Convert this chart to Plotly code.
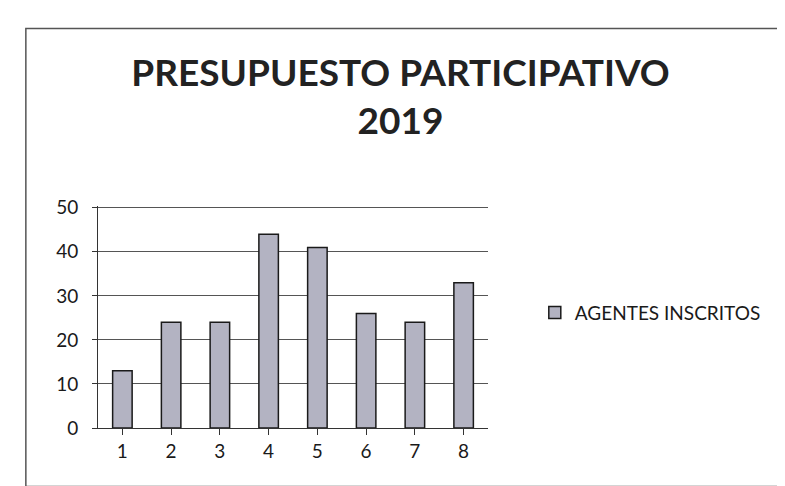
import plotly.graph_objects as go

categories = ["1", "2", "3", "4", "5", "6", "7", "8"]
agentes_inscritos = [13, 24, 24, 44, 41, 26, 24, 33]
y_ticks = [0, 10, 20, 30, 40, 50]

fig = go.Figure()
fig.add_trace(go.Bar(
    x=categories, y=agentes_inscritos, name="AGENTES INSCRITOS",
    marker=dict(color="#b3b3c2", line=dict(color="#1a1a1a", width=1.5)),
))

fig.update_layout(
    width=785, height=486,
    paper_bgcolor="white", plot_bgcolor="white",
    margin=dict(l=90, r=305, t=198, b=66),
    font=dict(family="Lato, 'Open Sans', sans-serif", color="#1a1a1a"),
    title=dict(text="<b>PRESUPUESTO PARTICIPATIVO<br>2019</b>",
               font=dict(size=37, color="#222222"),
               x=0.50, xanchor="center", y=0.84, yanchor="middle"),
    bargap=0.6,
    showlegend=True,
    legend=dict(x=1.12, y=0.52, xanchor="left", yanchor="middle",
                font=dict(size=19), bgcolor="rgba(0,0,0,0)"),
    xaxis=dict(showline=True, linecolor="#333333", ticks="outside",
               tickcolor="#333333", ticklen=6, tickfont=dict(size=19),
               showgrid=False),
    yaxis=dict(range=[0, 50.4], tickvals=y_ticks, showline=True,
               linecolor="#333333", ticks="outside", tickcolor="#333333",
               ticklen=5, tickfont=dict(size=19), showgrid=True,
               gridcolor="#555555", gridwidth=1, zeroline=False,
               ticklabelstandoff=10),
    shapes=[dict(type="rect", xref="paper", yref="paper",
                 x0=-0.185, x1=1.765, y0=-0.264, y1=1.80,
                 line=dict(color="#555555", width=1.5))],
)

fig.write_html("out.html")
